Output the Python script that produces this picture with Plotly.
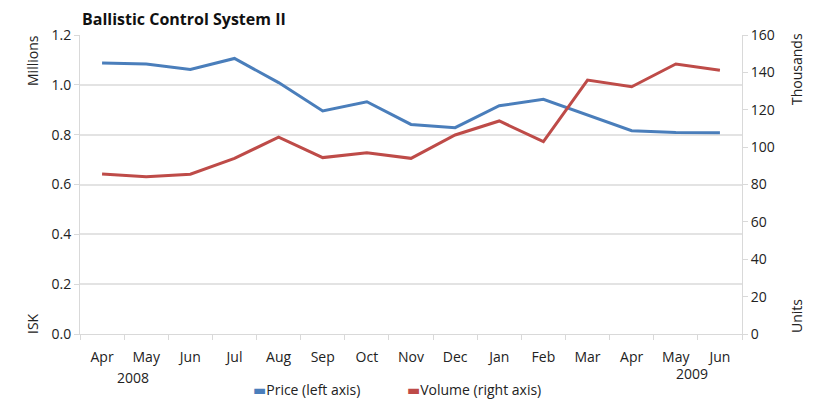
import plotly.graph_objects as go

months = ["Apr", "May", "Jun", "Jul", "Aug", "Sep", "Oct", "Nov", "Dec",
          "Jan", "Feb", "Mar", "Apr", "May", "Jun"]
price_millions = [1.088, 1.084, 1.062, 1.106, 1.009, 0.895, 0.932, 0.841, 0.828,
                  0.916, 0.942, 0.879, 0.816, 0.809, 0.808]
volume_thousands = [85.6, 84.2, 85.5, 94.0, 105.3, 94.4, 97.0, 94.0, 106.5,
                    114.0, 102.9, 135.9, 132.3, 144.5, 141.1]
left_ticks = [0.0, 0.2, 0.4, 0.6, 0.8, 1.0, 1.2]
right_ticks = [0, 20, 40, 60, 80, 100, 120, 140, 160]
years = ["2008", "2009"]
series_names = ["Price (left axis)", "Volume (right axis)"]
series_colors = ["#4a7ebb", "#be4b48"]
chart_title = "Ballistic Control System II"

x_idx = list(range(len(months)))
FONT = "Open Sans"
TXT = "#222222"

# page is rendered with an 8px body margin; the figure is sized to fill the rest
OFF = 8
W, H = 817 - OFF, 403 - OFF
PL, PR, PT, PB = 80, 742, 35, 334  # plot area in page pixels


def px_x(page_x):
    return (page_x - PL) / (PR - PL)


def px_y(page_y):
    return (PB - page_y) / (PB - PT)


fig = go.Figure()
fig.add_trace(go.Scatter(x=x_idx, y=price_millions, name=series_names[0],
                         mode="lines", line=dict(color=series_colors[0], width=3)))
fig.add_trace(go.Scatter(x=x_idx, y=volume_thousands, name=series_names[1],
                         mode="lines", line=dict(color=series_colors[1], width=3),
                         yaxis="y2"))

fig.update_layout(
    width=W, height=H,
    margin=dict(l=PL - OFF, r=817 - PR, t=PT - OFF, b=403 - PB),
    paper_bgcolor="white", plot_bgcolor="white",
    font=dict(family=FONT, size=14, color=TXT),
    showlegend=False,
    xaxis=dict(
        range=[-0.5, len(months) - 0.5],
        tickmode="array", tickvals=x_idx, ticktext=months,
        ticks="outside", ticklen=10, tickcolor="rgba(0,0,0,0)",
        showgrid=False, zeroline=False,
        showline=True, linecolor="#d9d9d9", linewidth=1,
        minor=dict(tickmode="array", tickvals=[i - 0.5 for i in range(len(months) + 1)],
                   ticks="outside", ticklen=5, tickcolor="#d9d9d9", showgrid=False),
        tickfont=dict(size=14, color=TXT),
        automargin=False,
    ),
    yaxis=dict(
        range=[0, 1.2], tickmode="array", tickvals=left_ticks,
        ticktext=[f"{v:.1f}" for v in left_ticks],
        showgrid=True, gridcolor="#e3e3e3", gridwidth=1.5,
        zeroline=False, showline=True, linecolor="#d9d9d9", linewidth=1,
        ticks="outside", ticklen=5, tickcolor="#d9d9d9",
        tickfont=dict(size=14, color=TXT), automargin=False,
    ),
    yaxis2=dict(
        range=[0, 160], overlaying="y", side="right", tickmode="array",
        tickvals=right_ticks, showgrid=False, zeroline=False,
        showline=True, linecolor="#d9d9d9", linewidth=1,
        ticks="outside", ticklen=5, tickcolor="#d9d9d9",
        tickfont=dict(size=14, color=TXT), automargin=False,
    ),
)

# chart title
fig.add_annotation(text=f"<b>{chart_title}</b>", xref="paper", yref="paper",
                   x=0, y=px_y(19), xanchor="left", yanchor="middle",
                   showarrow=False,
                   font=dict(family=FONT, size=16, color="#111111"))

axis_titles = [
    ("Millions", 32, 60),
    ("ISK", 32, 323),
    ("Thousands", 796, 69),
    ("Units", 796, 316),
]
for text, ax, ay in axis_titles:
    fig.add_annotation(text=text, xref="paper", yref="paper",
                       x=px_x(ax), y=px_y(ay), textangle=-90, showarrow=False,
                       xanchor="center", yanchor="middle",
                       font=dict(size=14, color=TXT))

fig.add_annotation(text=years[0], xref="x", yref="paper", x=0.7, y=px_y(378),
                   showarrow=False, xanchor="center", yanchor="middle",
                   font=dict(size=14, color=TXT))
fig.add_annotation(text=years[1], xref="x", yref="paper", x=13.36, y=px_y(373),
                   showarrow=False, xanchor="center", yanchor="middle",
                   font=dict(size=14, color=TXT))

# legend (short line keys, as in the original)
for name, color, lx in zip(series_names, series_colors, [251, 405]):
    fig.add_annotation(
        text=f"<span style='color:{color};font-family:DejaVu Sans'>▬</span>{name}",
        xref="paper", yref="paper", x=px_x(lx), y=px_y(390),
        showarrow=False, xanchor="left", yanchor="middle",
        font=dict(size=14, color=TXT))

fig.write_html("out.html")
